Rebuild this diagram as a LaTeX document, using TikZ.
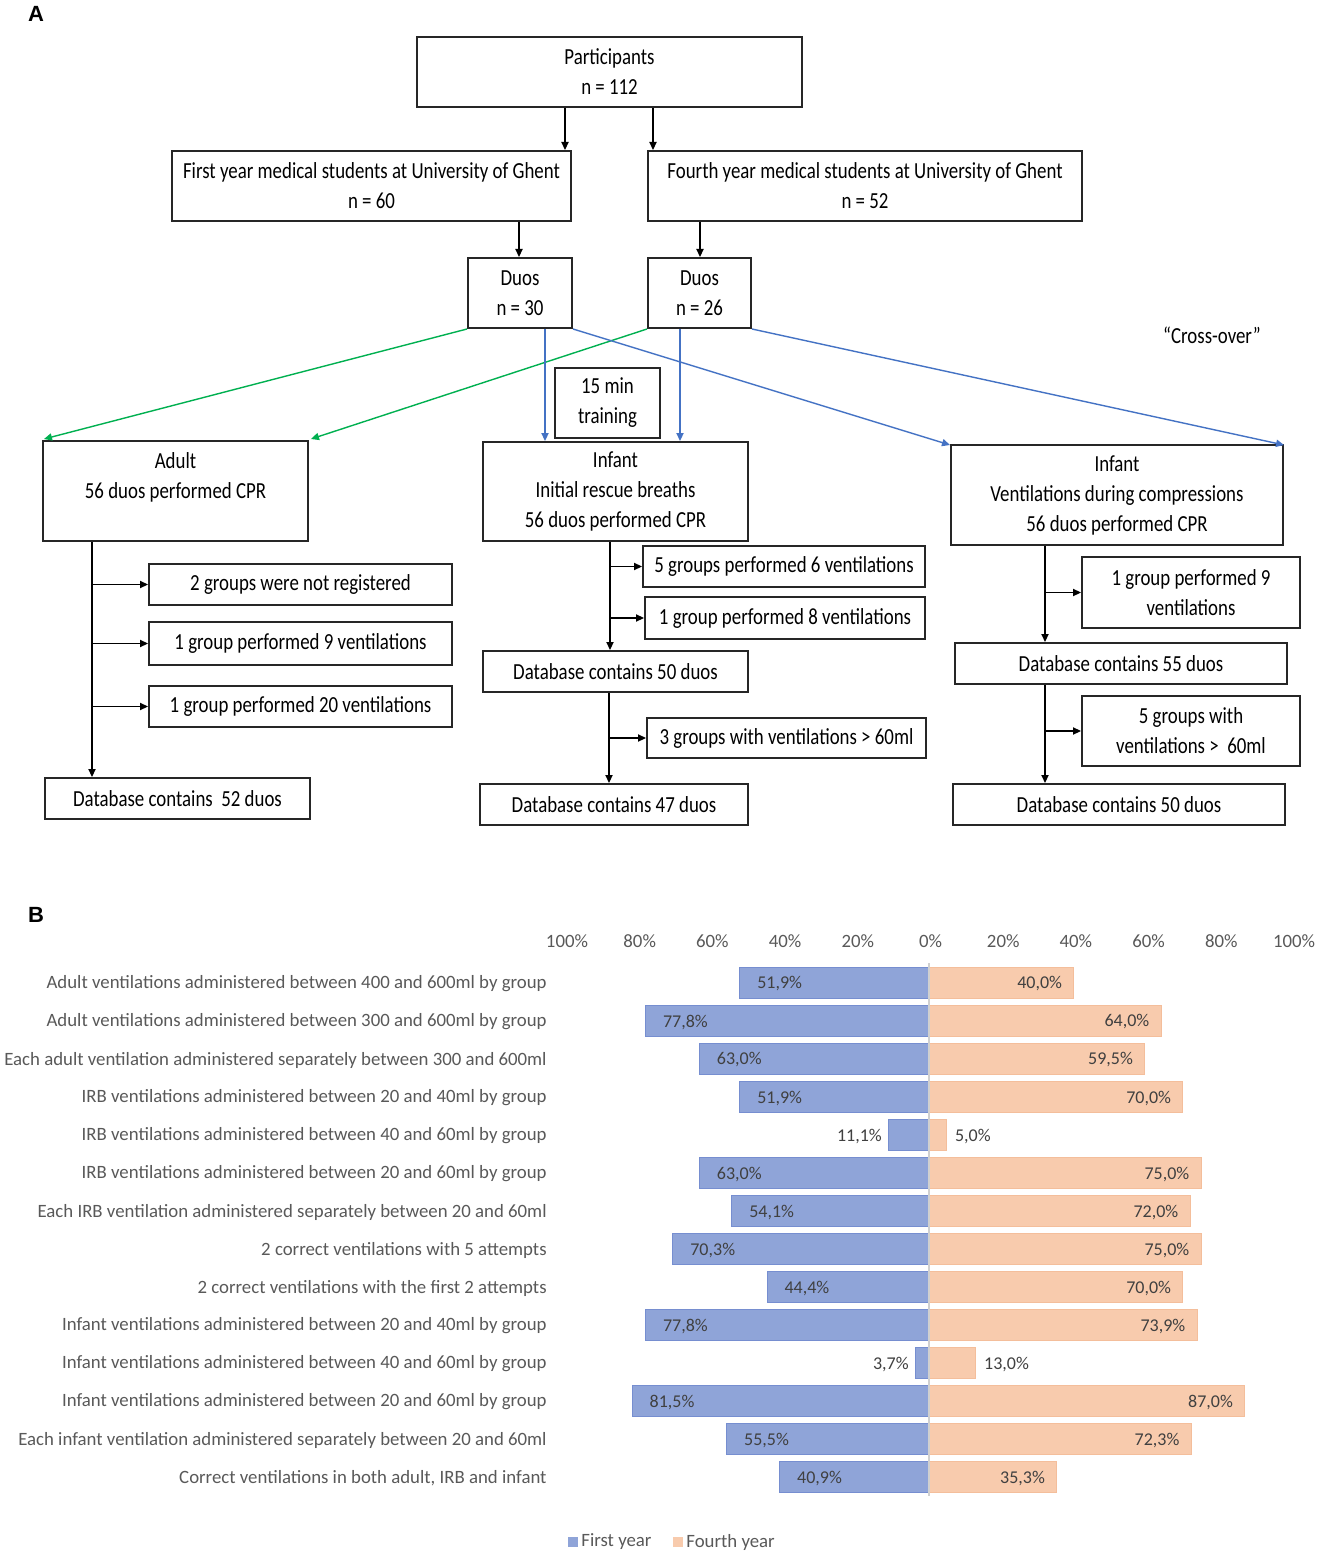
\documentclass[tikz,border=0pt]{standalone}
\usepackage{fontspec}
\setmainfont{Carlito}
\newfontfamily\flowfont[FakeStretch=0.82]{Carlito}
\newfontfamily\labfont{Liberation Sans}
\usetikzlibrary{arrows.meta,calc}
\definecolor{fgreen}{RGB}{0,176,80}
\definecolor{fblue}{RGB}{68,114,196}
\definecolor{barblue}{RGB}{143,164,216}
\definecolor{barblueedge}{RGB}{118,142,208}
\definecolor{barorange}{RGB}{248,203,173}
\definecolor{barorangeedge}{RGB}{244,190,155}
\definecolor{txtgray}{RGB}{89,89,89}
\definecolor{valgray}{RGB}{64,64,64}
\definecolor{axisgray}{RGB}{208,208,208}
\begin{document}
\begin{tikzpicture}[x=0.5pt,y=-0.5pt,
 box/.style={draw=black!85, line width=1pt, inner sep=0pt, align=center,
   font=\flowfont\fontsize{11.5}{15}\selectfont},
 arr/.style={draw=black, line width=0.6pt, -{Triangle[length=4pt,width=3.6pt]}},
 garr/.style={draw=fgreen, line width=0.7pt, -{Triangle[length=4pt,width=3.6pt]}},
 barr/.style={draw=fblue, line width=0.7pt, -{Triangle[length=4pt,width=3.6pt]}},
 clab/.style={inner sep=0pt, text=txtgray, font=\fontsize{9.4}{11}\selectfont},
 val/.style={inner sep=0pt, text=valgray, font=\fontsize{9}{11}\selectfont},
 bblue/.style={fill=barblue, draw=barblueedge, line width=0.5pt},
 borange/.style={fill=barorange, draw=barorangeedge, line width=0.5pt},
 panel/.style={font=\labfont\bfseries\fontsize{11}{11}\selectfont}
]
\useasboundingbox[fill=white] (0,0) rectangle (1325,1556);

% ---------------- Panel A ----------------
\node[panel] (labA) at (36,14) {A};

\node[box, minimum width=192.5pt, minimum height=35pt] (part) at (609.5,72) {Participants\\n = 112};
\node[box, minimum width=199.5pt, minimum height=35pt] (first) at (371.5,186) {First year medical students at University of Ghent\\n = 60};
\node[box, minimum width=217pt, minimum height=35pt] (fourth) at (865,186) {Fourth year medical students at University of Ghent\\n = 52};
\node[box, minimum width=52pt, minimum height=35pt] (duo1) at (520,293) {Duos\\n = 30};
\node[box, minimum width=51.5pt, minimum height=35pt] (duo2) at (699.5,293) {Duos\\n = 26};
\node[box, draw=none, font=\flowfont\fontsize{11.5}{15}\selectfont] (cross) at (1212,335) {“Cross-over”};
\node[box, minimum width=52.5pt, minimum height=35pt] (train) at (607.5,403) {15 min\\training};

\node[box, minimum width=132.5pt, minimum height=50pt] (adult) at (175.5,491) {Adult\\56 duos performed CPR\\~};
\node[box, minimum width=132.5pt, minimum height=49.5pt] (irb) at (615.5,491.5) {Infant\\Initial rescue breaths\\56 duos performed CPR};
\node[box, minimum width=166pt, minimum height=50pt] (vdc) at (1117,495) {Infant\\Ventilations during compressions\\56 duos performed CPR};

\node[box, minimum width=151.5pt, minimum height=20.5pt] (a1) at (300.5,584.5) {2 groups were not registered};
\node[box, minimum width=151.5pt, minimum height=21.5pt] (a2) at (300.5,643.5) {1 group performed 9 ventilations};
\node[box, minimum width=151.5pt, minimum height=20.5pt] (a3) at (300.5,706.5) {1 group performed 20 ventilations};
\node[box, minimum width=132.5pt, minimum height=20.5pt] (adb) at (177.5,798.5) {Database contains\ \ 52 duos};

\node[box, minimum width=141pt, minimum height=20.5pt] (i1) at (784,566.5) {5 groups performed 6 ventilations};
\node[box, minimum width=140pt, minimum height=21pt] (i2) at (785,618) {1 group performed 8 ventilations};
\node[box, minimum width=132.5pt, minimum height=20.5pt] (idb1) at (615.5,671.5) {Database contains 50 duos};
\node[box, minimum width=139.5pt, minimum height=20pt] (i3) at (786.5,738) {3 groups with ventilations > 60ml};
\node[box, minimum width=134pt, minimum height=20.5pt] (idb2) at (614,804.5) {Database contains 47 duos};

\node[box, minimum width=109pt, minimum height=35.5pt] (v1) at (1191,592.5) {1 group performed 9\\ventilations};
\node[box, minimum width=166pt, minimum height=20.5pt] (vdb1) at (1121,663.5) {Database contains 55 duos};
\node[box, minimum width=109pt, minimum height=35pt] (v2) at (1191,731) {5 groups with\\ventilations >\ \ 60ml};
\node[box, minimum width=166pt, minimum height=20.5pt] (vdb2) at (1119,804.5) {Database contains 50 duos};

% top connectors
\draw[arr] ($(part.south)+(-44.5,0)$) coordinate (p1) -- (p1 |- first.north);
\draw[arr] ($(part.south)+(43.5,0)$) coordinate (p2) -- (p2 |- fourth.north);
\draw[arr] ($(first.south)+(147.5,0)$) coordinate (f1) -- (f1 |- duo1.north);
\draw[arr] ($(fourth.south)+(-165,0)$) coordinate (f2) -- (f2 |- duo2.north);

% cross-over connectors
\draw[garr] (duo1.south west) -- ($(adult.north west)+(2,-1)$);
\draw[garr] (duo2.south west) -- ($(adult.north east)+(2,-1)$);
\draw[barr] (duo1.south east) -- ($(vdc.north west)+(0,1)$);
\draw[barr] (duo2.south east) -- ($(vdc.north east)+(0,1)$);
\draw[barr] ($(duo1.south)+(25,0)$) coordinate (d1) -- (d1 |- irb.north);
\draw[barr] ($(duo2.south)+(-19.5,0)$) coordinate (d2) -- (d2 |- irb.north);

% adult column
\draw[arr] ($(adult.south west)+(50,0)$) coordinate (av) -- (av |- adb.north);
\draw[arr] (av |- a1.west) -- (a1.west);
\draw[arr] (av |- a2.west) -- (a2.west);
\draw[arr] (av |- a3.west) -- (a3.west);

% IRB column
\draw[arr] ($(irb.south)+(-5.5,0)$) coordinate (iv) -- (iv |- idb1.north);
\draw[arr] (iv |- i1.west) -- (i1.west);
\draw[arr] (iv |- i2.west) -- (i2.west);
\draw[arr] ($(idb1.south)+(-6.5,0)$) coordinate (iv2) -- (iv2 |- idb2.north);
\draw[arr] (iv2 |- i3.west) -- (i3.west);

% VDC column
\draw[arr] ($(vdc.south)+(-72,0)$) coordinate (vv) -- (vv |- vdb1.north);
\draw[arr] (vv |- v1.west) -- (v1.west);
\draw[arr] ($(vdb1.south)+(-76,0)$) coordinate (vv2) -- (vv2 |- vdb2.north);
\draw[arr] (vv2 |- v2.west) -- (v2.west);

% ---------------- Panel B ----------------
\node[panel] (labB) at (36,915) {B};

\foreach \p/\lab [count=\k] in {-100/100\%,-80/80\%,-60/60\%,-40/40\%,-20/20\%,0/0\%,20/20\%,40/40\%,60/60\%,80/80\%,100/100\%}
  \node[clab] (ax\k) at (930.5+3.635*\p,941) {\lab};

\foreach \i/\t/\l/\ls/\r/\rs in {
 0/{Adult ventilations administered between 400 and 600ml by group}/51.9/{51,9\%}/40.0/{40,0\%},
 1/{Adult ventilations administered between 300 and 600ml by group}/77.8/{77,8\%}/64.0/{64,0\%},
 2/{Each adult ventilation administered separately between 300 and 600ml}/63.0/{63,0\%}/59.5/{59,5\%},
 3/{IRB ventilations administered between 20 and 40ml by group}/51.9/{51,9\%}/70.0/{70,0\%},
 4/{IRB ventilations administered between 40 and 60ml by group}/11.1/{11,1\%}/5.0/{5,0\%},
 5/{IRB ventilations administered between 20 and 60ml by group}/63.0/{63,0\%}/75.0/{75,0\%},
 6/{Each IRB ventilation administered separately between 20 and 60ml}/54.1/{54,1\%}/72.0/{72,0\%},
 7/{2 correct ventilations with 5 attempts}/70.3/{70,3\%}/75.0/{75,0\%},
 8/{2 correct ventilations with the first 2 attempts}/44.4/{44,4\%}/70.0/{70,0\%},
 9/{Infant ventilations administered between 20 and 40ml by group}/77.8/{77,8\%}/73.9/{73,9\%},
 10/{Infant ventilations administered between 40 and 60ml by group}/3.7/{3,7\%}/13.0/{13,0\%},
 11/{Infant ventilations administered between 20 and 60ml by group}/81.5/{81,5\%}/87.0/{87,0\%},
 12/{Each infant ventilation administered separately between 20 and 60ml}/55.5/{55,5\%}/72.3/{72,3\%},
 13/{Correct ventilations in both adult, IRB and infant}/40.9/{40,9\%}/35.3/{35,3\%}}
{
  \pgfmathsetmacro\yy{983+38*\i}
  \pgfmathsetmacro\xl{928.5-3.635*\l}
  \pgfmathsetmacro\xr{928.5+3.635*\r}
  \pgfmathtruncatemacro\sflag{\l<20 ? 1 : 0}
  \node[clab, anchor=east] (row\i) at (547,\yy+1) {\t};
  \filldraw[bblue] (\xl,\yy-15.5) rectangle (928.5,\yy+15.5);
  \filldraw[borange] (928.5,\yy-15.5) rectangle (\xr,\yy+15.5);
  \ifnum\sflag=1
    \node[val, anchor=east] (fv\i) at (\xl-6,\yy+1) {\ls};
    \node[val, anchor=west] (sv\i) at (\xr+8,\yy+1) {\rs};
  \else
    \node[val, anchor=west] (fv\i) at (\xl+17,\yy+1) {\ls};
    \node[val, anchor=east] (sv\i) at (\xr-11.5,\yy+1) {\rs};
  \fi
}
\draw[axisgray, line width=1pt] (928.5,963) -- (928.5,1496);

% legend
\fill[barblue] (568,1537) rectangle (578,1547);
\node[clab, anchor=west] (leg1) at (581,1542) {First year};
\fill[barorange] (673,1537) rectangle (683,1547);
\node[clab, anchor=west] (leg2) at (686,1542) {Fourth year};
\end{tikzpicture}
\end{document}
